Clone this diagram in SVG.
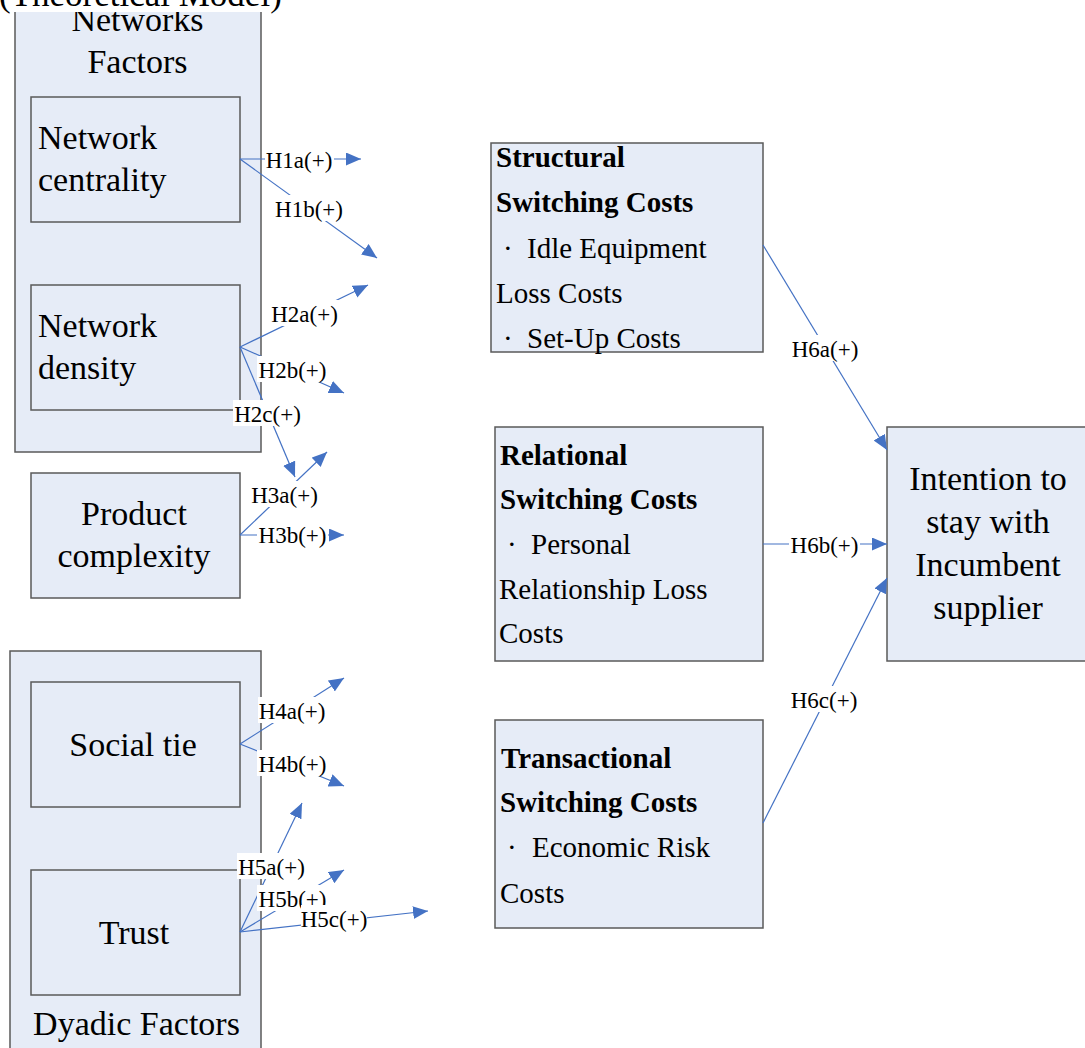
<svg xmlns="http://www.w3.org/2000/svg" width="1085" height="1048" viewBox="0 0 1085 1048">
<defs>
<style>
.box{fill:#E6ECF7;stroke:#5A5A5A;stroke-width:1.5}
.t{font-family:"Liberation Serif","Times New Roman",serif;fill:#000}
.big{font-size:34px}
.mid{font-size:29px}
.b{font-weight:bold}
.lab{font-family:"Liberation Serif","Times New Roman",serif;font-size:23px;fill:#000;text-anchor:middle}
.lbg{fill:#fff}
.c{stroke:#4472C4;stroke-width:1.2;fill:none;marker-end:url(#ah)}
.mc{text-anchor:middle}
</style>
<marker id="ah" markerUnits="userSpaceOnUse" markerWidth="16" markerHeight="14" refX="15" refY="6.5" orient="auto">
<path d="M0,0 L15,6.5 L0,13 z" fill="#4472C4"/>
</marker>
</defs>
<rect width="1085" height="1048" fill="#fff"/>

<g id="networks-factors">
<rect class="box" x="15" y="-5" width="246" height="457"/>
<text class="t big mc" x="137.5" y="31">Networks</text>
<text class="t big mc" x="137.5" y="73">Factors</text>
</g>
<g id="network-centrality">
<rect class="box" x="31" y="97" width="209" height="125"/>
<text class="t big" x="38" y="149">Network</text>
<text class="t big" x="38" y="191">centrality</text>
</g>
<g id="network-density">
<rect class="box" x="31" y="285" width="209" height="125"/>
<text class="t big" x="38" y="337">Network</text>
<text class="t big" x="38" y="379">density</text>
</g>
<g id="product-complexity">
<rect class="box" x="31" y="473" width="209" height="125"/>
<text class="t big mc" x="134" y="525">Product</text>
<text class="t big mc" x="134" y="567">complexity</text>
</g>
<g id="dyadic-factors">
<rect class="box" x="10" y="651" width="251" height="410"/>
<text class="t big mc" x="136.5" y="1035">Dyadic Factors</text>
</g>
<g id="social-tie">
<rect class="box" x="31" y="682" width="209" height="125"/>
<text class="t big mc" x="133" y="756">Social tie</text>
</g>
<g id="trust">
<rect class="box" x="31" y="870" width="209" height="125"/>
<text class="t big mc" x="134" y="944">Trust</text>
</g>

<g id="structural">
<rect class="box" x="491" y="143" width="272" height="209"/>
<text class="t mid b" x="496" y="167">Structural</text>
<text class="t mid b" x="496" y="212">Switching Costs</text>
<text class="t mid" x="503" y="258">· <tspan x="527">Idle Equipment</tspan></text>
<text class="t mid" x="496" y="303">Loss Costs</text>
<text class="t mid" x="503" y="348">· <tspan x="527">Set-Up Costs</tspan></text>
</g>
<g id="relational">
<rect class="box" x="495" y="427" width="268" height="234"/>
<text class="t mid b" x="500" y="465">Relational</text>
<text class="t mid b" x="500" y="509">Switching Costs</text>
<text class="t mid" x="507" y="554">· <tspan x="531">Personal</tspan></text>
<text class="t mid" x="499" y="599">Relationship Loss</text>
<text class="t mid" x="499" y="643">Costs</text>
</g>
<g id="transactional">
<rect class="box" x="495" y="720" width="268" height="208"/>
<text class="t mid b" x="501" y="768">Transactional</text>
<text class="t mid b" x="500" y="812">Switching Costs</text>
<text class="t mid" x="507" y="857">· <tspan x="532">Economic Risk</tspan></text>
<text class="t mid" x="500" y="903">Costs</text>
</g>
<g id="intention">
<rect class="box" x="887" y="427" width="210" height="234"/>
<text class="t big mc" x="988" y="490">Intention to</text>
<text class="t big mc" x="988" y="533">stay with</text>
<text class="t big mc" x="988" y="576">Incumbent</text>
<text class="t big mc" x="988" y="619">supplier</text>
</g>

<g id="title">
<rect x="0" y="0" width="300" height="12" fill="#fff"/>
<text class="t" x="-1" y="6" font-size="35">(Theoretical Model)</text>
</g>

<g id="connectors">
<line class="c" x1="240" y1="159" x2="361" y2="159"/>
<line class="c" x1="240" y1="159" x2="377" y2="258"/>
<line class="c" x1="240" y1="347" x2="368" y2="285"/>
<line class="c" x1="240" y1="347" x2="344" y2="393"/>
<line class="c" x1="240" y1="347" x2="295" y2="477"/>
<line class="c" x1="240" y1="535" x2="327" y2="452"/>
<line class="c" x1="240" y1="535" x2="344" y2="535"/>
<line class="c" x1="240" y1="744" x2="344" y2="678"/>
<line class="c" x1="240" y1="744" x2="344" y2="786"/>
<line class="c" x1="240" y1="932" x2="302" y2="803"/>
<line class="c" x1="240" y1="932" x2="344" y2="870"/>
<line class="c" x1="240" y1="932" x2="428" y2="911"/>
<line class="c" x1="763" y1="245" x2="887" y2="450"/>
<line class="c" x1="763" y1="544" x2="887" y2="544"/>
<line class="c" x1="763" y1="823" x2="887" y2="578"/>

<rect class="lbg" x="265" y="146" width="69" height="26"/>
<text class="lab" x="299" y="168">H1a(+)</text>
<rect class="lbg" x="275" y="195" width="69" height="26"/>
<text class="lab" x="309" y="217">H1b(+)</text>
<rect class="lbg" x="270" y="300" width="69" height="26"/>
<text class="lab" x="304.5" y="322">H2a(+)</text>
<rect class="lbg" x="257" y="356" width="71" height="26"/>
<text class="lab" x="292.5" y="378">H2b(+)</text>
<rect class="lbg" x="233" y="400" width="69" height="26"/>
<text class="lab" x="267.5" y="422">H2c(+)</text>
<rect class="lbg" x="250" y="481" width="69" height="26"/>
<text class="lab" x="284.5" y="503">H3a(+)</text>
<rect class="lbg" x="257" y="521" width="71" height="26"/>
<text class="lab" x="292.5" y="543">H3b(+)</text>
<rect class="lbg" x="258" y="697" width="68" height="26"/>
<text class="lab" x="292" y="719">H4a(+)</text>
<rect class="lbg" x="257" y="750" width="71" height="26"/>
<text class="lab" x="292.5" y="772">H4b(+)</text>
<rect class="lbg" x="237" y="853" width="69" height="26"/>
<text class="lab" x="271.5" y="875">H5a(+)</text>
<rect class="lbg" x="257" y="885" width="71" height="26"/>
<text class="lab" x="292.5" y="907">H5b(+)</text>
<rect class="lbg" x="301" y="905" width="66" height="26"/>
<text class="lab" x="334" y="927">H5c(+)</text>
<rect class="lbg" x="792" y="335" width="66" height="26"/>
<text class="lab" x="825" y="357">H6a(+)</text>
<rect class="lbg" x="789" y="531" width="71" height="26"/>
<text class="lab" x="824.5" y="553">H6b(+)</text>
<rect class="lbg" x="790" y="686" width="68" height="26"/>
<text class="lab" x="824" y="708">H6c(+)</text>
</g>
</svg>
